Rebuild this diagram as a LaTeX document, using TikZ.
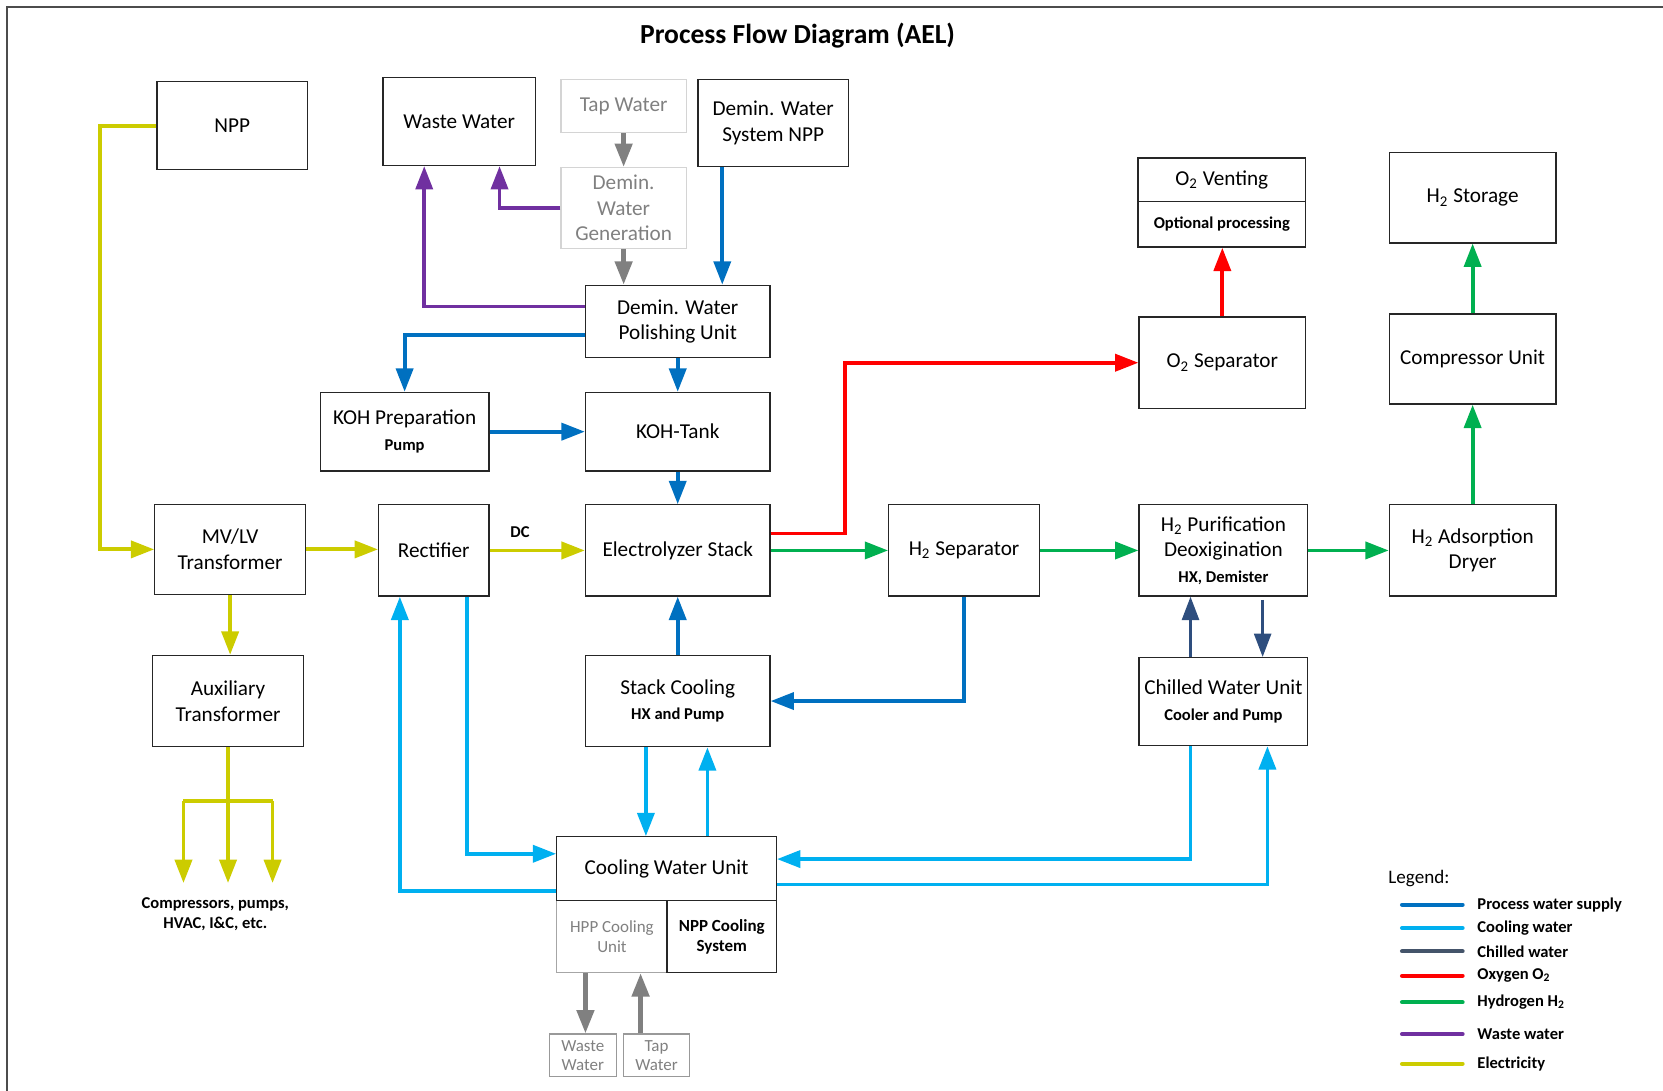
\documentclass[tikz,border=0pt]{standalone}
\usepackage{fontspec}
\setmainfont{Carlito}
\usetikzlibrary{arrows.meta,calc}

\definecolor{procblue}{HTML}{0070C0}
\definecolor{coolblue}{HTML}{00B0F0}
\definecolor{chillblue}{HTML}{2E4E7E}
\definecolor{chillleg}{HTML}{44546A}
\definecolor{oxred}{HTML}{FF0000}
\definecolor{hydgreen}{HTML}{00B050}
\definecolor{wastepurple}{HTML}{7030A0}
\definecolor{elecyellow}{HTML}{CCCC00}
\definecolor{flowgray}{HTML}{808080}
\definecolor{lightframe}{HTML}{D4D4D4}

\newcommand{\subtxt}{\fontsize{7.8}{9.5}\selectfont\bfseries}
\newcommand{\Hy}{H\textsubscript{2}}
\newcommand{\Ox}{O\textsubscript{2}}

\tikzset{
  blk/.style={draw=black!85, line width=0.6pt, align=center, inner sep=1pt,
              font=\fontsize{10}{12}\selectfont},
  wh/.style 2 args={minimum width=#1, minimum height=#2},
  ghost/.style={blk, draw=lightframe, text=flowgray},
  pipe/.style={line width=1.8pt},
  proc/.style={pipe, procblue},
  cool/.style={pipe, coolblue},
  chill/.style={line width=1.3pt, chillblue},
  oxy/.style={pipe, oxred},
  hyd/.style={pipe, hydgreen},
  wst/.style={pipe, wastepurple},
  elec/.style={pipe, elecyellow},
  tapw/.style={line width=2.2pt, flowgray},
}

\begin{document}
\begin{tikzpicture}[x=0.5pt,y=-0.5pt,>={Triangle[length=11pt,width=8pt]}]
\useasboundingbox (0,0) rectangle (1568,1028);
\draw[black!70, line width=0.9pt] (7,1040) -- (7,7) -- (1580,7);

\node[font=\bfseries\fontsize{13}{15}\selectfont] (title) at (752,34) {Process Flow Diagram (AEL)};

% boxes
\node[blk, wh={71pt}{41.5pt}] (npp) at (219,118.5) {NPP};
\node[blk, wh={72pt}{41.5pt}] (waste) at (433,114.5) {Waste Water};
\node[ghost, wh={59pt}{25pt}] (tap) at (588,100) {Tap Water};
\node[ghost, wh={59pt}{38pt}] (demgen) at (588,196) {Demin.\\Water\\Generation};
\node[blk, wh={71pt}{41pt}] (demnpp) at (729,116) {Demin. Water\\System NPP};
\node[blk, wh={87pt}{34pt}] (polish) at (639,303) {Demin. Water\\Polishing Unit};
\node[blk, wh={79.5pt}{37pt}] (kohprep) at (381.5,407) {KOH Preparation\\{\subtxt Pump}};
\node[blk, wh={87pt}{37pt}] (kohtank) at (639,407) {KOH-Tank};
\node[blk, wh={71pt}{42.5pt}] (mvlv) at (217,518) {MV/LV\\Transformer};
\node[blk, wh={52pt}{43pt}] (rect) at (409,519) {Rectifier};
\node[blk, wh={87pt}{43pt}] (stack) at (639,519) {Electrolyzer Stack};
\node[blk, wh={71pt}{43pt}] (h2sep) at (909,519) {\Hy{} Separator};
\node[blk, wh={79.5pt}{43pt}] (h2pur) at (1153.5,519) {\Hy{} Purification\\Deoxigination\\{\subtxt HX, Demister}};
\node[blk, wh={78.5pt}{43pt}] (h2ads) at (1388.5,519) {\Hy{} Adsorption\\Dryer};
\node[blk, wh={71pt}{43pt}] (aux) at (215,661) {Auxiliary\\Transformer};
\node[blk, wh={87pt}{43pt}] (stackcool) at (639,661) {Stack Cooling\\{\subtxt HX and Pump}};
\node[blk, wh={79.5pt}{41.5pt}] (chw) at (1153.5,661.5) {Chilled Water Unit\\{\subtxt Cooler and Pump}};
\node[blk, wh={79pt}{20.5pt}] (o2vent) at (1152,169.5) {\Ox{} Venting};
\node[blk, wh={79pt}{21.5pt}, font=\subtxt] (o2opt) at (1152,211.5) {Optional processing};
\node[blk, wh={78.5pt}{43pt}] (o2sep) at (1152.5,342) {\Ox{} Separator};
\node[blk, wh={78.5pt}{42.5pt}] (h2store) at (1388.5,186.5) {\Hy{} Storage};
\node[blk, wh={78.5pt}{42.5pt}] (comp) at (1388.5,338.5) {Compressor Unit};

% cooling water unit
\node[ghost, draw=black!35, wh={52pt}{34pt}, font=\fontsize{8}{9.5}\selectfont] (hpp) at (577,883) {HPP Cooling\\Unit};
\node[blk, wh={51.5pt}{34pt}, font=\fontsize{8}{9.5}\selectfont\bfseries] (nppcool) at (680.5,883) {NPP Cooling\\System};
\node[blk, wh={103.5pt}{30pt}] (cwu) at (628.5,819) {Cooling Water Unit};
\node[ghost, draw=black!40, wh={31.5pt}{20pt}, font=\fontsize{8}{9}\selectfont] (wastesm) at (549.5,995) {Waste\\Water};
\node[ghost, draw=black!40, wh={31pt}{20pt}, font=\fontsize{8}{9}\selectfont] (tapsm) at (619,995) {Tap\\Water};

\node[font=\subtxt, align=center] (loads) at (203,862) {Compressors, pumps,\\HVAC, I\&C, etc.};

% electricity
\draw[elec,->] (npp.west) -- ++(-53,0) |- (mvlv.west);
\draw[elec,->] (mvlv.east) -- (mvlv.east -| rect.west);
\draw[elec,->] (rect.east) -- (stack.west) node[pos=0.32, above=2pt, font=\subtxt, text=black] (dc) {DC};
\draw[elec,->] (mvlv.south) -- (mvlv.south |- aux.north);
\draw[elec] (aux.south) -- ++(0,51) coordinate (fan);
\draw[elec] ($(fan)+(-42,0)$) -- ($(fan)+(42,0)$);
\foreach \dx in {-42,0,42}
  \draw[elec,->] ($(fan)+(\dx,0)$) -- ++(0,77);

% waste water and tap water
\draw[wst,->] ($(polish.west)+(0,-14)$) -| ($(waste.south)+(-33,0)$);
\draw[wst,->] (demgen.west) -| ($(waste.south)+(38,0)$);
\draw[tapw,->] (tap) -- (demgen);
\draw[tapw,->] (demgen.south) -- (demgen.south |- polish.north);
\draw[tapw,->] ($(hpp.south)+(-25,0)$) coordinate (hw) -- (hw |- wastesm.north);
\draw[tapw,->] ($(tapsm.north)+(-15,0)$) coordinate (tw) -- (tw |- hpp.south);

% process water
\draw[proc,->] ($(demnpp.south)+(-48,0)$) -- ($(polish.north)+(42,0)$);
\draw[proc,->] ($(polish.west)+(0,13)$) -| (kohprep.north);
\draw[proc,->] (polish) -- (kohtank);
\draw[proc,->] (kohprep) -- (kohtank);
\draw[proc,->] (kohtank) -- (stack);
\draw[proc,->] (stackcool) -- (stack);
\draw[proc,->] (h2sep.south) |- (stackcool.east);

% oxygen and hydrogen
\draw[oxy,->] ($(stack.east)+(0,-16)$) -| ($(o2sep.west)+(-277,0)$) -- (o2sep.west);
\draw[oxy,->] (o2sep.north) -- (o2sep.north |- o2opt.south);
\draw[hyd,->] (stack) -- (h2sep);
\draw[hyd,->] (h2sep) -- (h2pur);
\draw[hyd,->] (h2pur) -- (h2ads);
\draw[hyd,->] (h2ads) -- (comp);
\draw[hyd,->] (comp) -- (h2store);

% chilled water
\draw[chill,->] ($(chw.north)+(-31,0)$) -- ($(h2pur.south)+(-31,0)$);
\draw[chill,->] ($(h2pur.south)+(37,3)$) -- ($(chw.north)+(37,0)$);

% cooling water
\draw[cool,->] ($(stackcool.south)+(-30,0)$) coordinate (cd) -- (cd |- cwu.north);
\draw[cool,->] ($(cwu.north)+(38.5,0)$) coordinate (cu) -- (cu |- stackcool.south);
\draw[cool,->] ($(rect.south)+(31,0)$) |- ($(cwu.west)+(0,-14)$);
\draw[cool,->] ($(cwu.west)+(0,21)$) -| ($(rect.south)+(-32,0)$);
\draw[cool,->] ($(chw.south)+(-31,0)$) |- ($(cwu.east)+(0,-9)$);
\draw[cool,->] ($(cwu.east)+(0,15)$) -| ($(chw.south)+(41.5,0)$);

% legend
\node[anchor=west, font=\fontsize{9}{11}\selectfont] (legend) at (1302,828) {Legend:};
\foreach \cl/\yy/\txt in {procblue/853/Process water supply, coolblue/875/Cooling water,
    chillleg/897/Chilled water, oxred/920/Oxygen \Ox, hydgreen/945/Hydrogen \Hy,
    wastepurple/975/Waste water, elecyellow/1003/Electricity}{
  \draw[line width=2pt, line cap=round, color=\cl] (1322,\yy) -- (1379,\yy);
  \node[anchor=west, font=\subtxt] (leg-\yy) at (1386,\yy) {\txt};
}
\end{tikzpicture}
\end{document}
